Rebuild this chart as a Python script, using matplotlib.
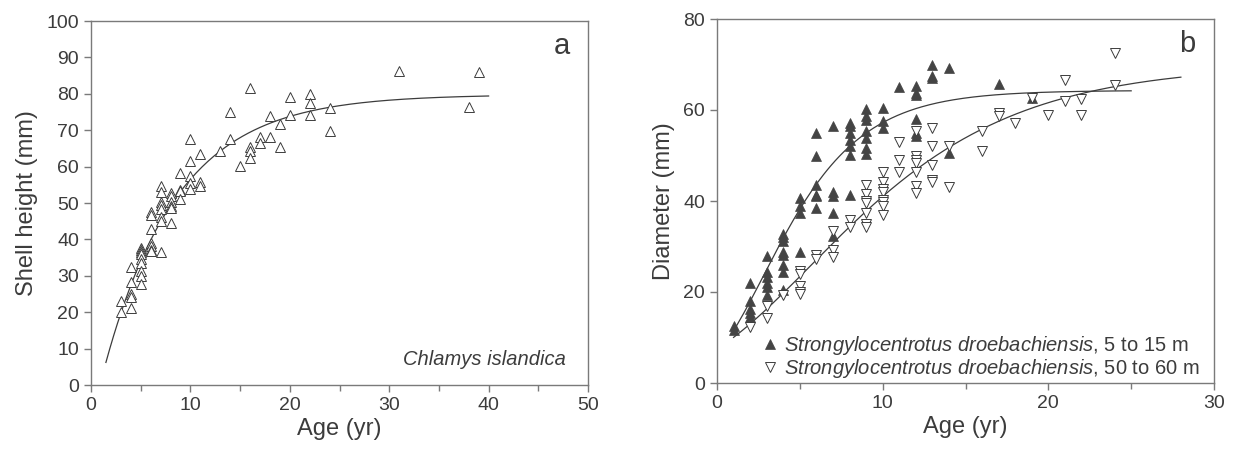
import numpy as np
import matplotlib
matplotlib.use('Agg')
import matplotlib.pyplot as plt
from matplotlib.ticker import MultipleLocator

plt.rcParams['font.family'] = ['Liberation Sans', 'DejaVu Sans']
plt.rcParams['mathtext.fontset'] = 'custom'
plt.rcParams['mathtext.rm'] = 'Liberation Sans'
plt.rcParams['mathtext.it'] = 'Liberation Sans:italic'

# ---- panel a: Chlamys islandica, shell height vs age ----
scallop_age = [3, 3,
               4, 4, 4, 4, 4,
               5, 5, 5, 5, 5, 5, 5, 5, 5,
               6, 6, 6, 6, 6, 6, 6,
               7, 7, 7, 7, 7, 7, 7, 7,
               8, 8, 8, 8, 8, 8,
               9, 9, 9, 9,
               10, 10, 10, 10, 10,
               11, 11, 11,
               13, 14, 14, 15,
               16, 16, 16, 16,
               17, 17, 18, 18, 19, 19, 20, 20,
               22, 22, 22, 24, 24,
               31, 38, 39]
scallop_height = [23.2, 20.0,
                  32.5, 28.2, 25.0, 24.3, 21.1,
                  37.6, 37.1, 36.5, 36.0, 34.5, 33.5, 31.2, 30.0, 27.8,
                  47.5, 46.7, 42.9, 38.9, 38.2, 37.1, 36.9,
                  54.8, 53.1, 50.4, 49.4, 48.3, 46.2, 45.1, 36.6,
                  52.8, 51.9, 50.3, 49.1, 48.5, 44.6,
                  58.3, 53.5, 53.2, 51.1,
                  67.6, 61.5, 57.4, 55.5, 53.8,
                  63.5, 55.9, 54.8,
                  64.2, 75.1, 67.6, 60.3,
                  81.5, 65.3, 64.4, 62.4,
                  68.1, 66.6, 73.8, 68.1, 71.6, 65.3, 79.0, 74.3,
                  79.9, 77.6, 74.2, 76.1, 69.9,
                  86.3, 76.4, 86.1]

# von Bertalanffy fit: Linf, k, t0
vb_linf, vb_k, vb_t0 = 79.8, 0.1353, 0.902
vb_age_range = (1.5, 40)

# ---- panel b: Strongylocentrotus droebachiensis, diameter vs age ----
shallow_age = [1, 1,
               2, 2, 2, 2, 2,
               3, 3, 3, 3, 3, 3,
               4, 4, 4, 4, 4, 4, 4, 4,
               5, 5, 5, 5,
               6, 6, 6, 6, 6, 6,
               7, 7, 7, 7, 7,
               8, 8, 8, 8, 8, 8, 8,
               9, 9, 9, 9, 9, 9, 9,
               10, 10, 10,
               11,
               12, 12, 12, 12, 12, 12,
               13, 13, 13,
               14, 14,
               17, 19]
shallow_diam = [12.6, 11.7,
                22.0, 18.0, 16.3, 15.4, 14.5,
                28.0, 24.5, 23.4, 22.0, 21.2, 19.4,
                32.7, 32.0, 31.3, 28.8, 28.2, 26.0, 24.5, 20.5,
                40.6, 38.8, 37.3, 28.8,
                54.9, 49.8, 43.6, 41.4, 41.0, 38.4,
                56.4, 41.9, 41.0, 37.3, 32.2,
                57.1, 56.5, 54.9, 53.4, 52.0, 50.1, 41.4,
                60.2, 58.6, 57.7, 55.3, 53.8, 51.6, 50.4,
                60.4, 57.5, 56.0,
                65.0,
                65.3, 63.8, 63.3, 58.0, 54.9, 54.3,
                69.9, 67.5, 67.0,
                69.2, 50.5,
                65.7, 62.6]

deep_age = [2,
            3, 3,
            4,
            5, 5, 5, 5, 5,
            6, 6,
            7, 7, 7,
            8, 8,
            9, 9, 9, 9, 9, 9, 9,
            10, 10, 10, 10, 10, 10, 10, 10,
            11, 11, 11,
            12, 12, 12, 12, 12, 12, 12,
            13, 13, 13, 13, 13,
            14, 14,
            16, 16, 17, 17, 18, 19, 20,
            21, 21, 22, 22, 24, 24]
deep_diam = [12.2,
             17.0, 14.3,
             19.4,
             24.7, 24.0, 21.4, 19.9, 19.5,
             28.2, 27.2,
             33.5, 29.3, 27.7,
             35.9, 34.3,
             43.6, 41.6, 40.1, 39.5, 37.3, 35.0, 34.3,
             46.3, 44.1, 42.6, 41.9, 40.3, 39.7, 38.9, 37.0,
             52.9, 49.0, 46.3,
             55.3, 49.9, 49.0, 48.3, 46.3, 43.2, 41.7,
             56.0, 52.0, 48.0, 44.7, 44.1,
             52.0, 43.0,
             55.3, 50.9, 59.3, 58.6, 57.2, 62.6, 58.9,
             66.6, 61.9, 62.4, 58.9, 72.5, 65.5]

# Gompertz fits: asymptote, b, k
shallow_fit = (64.3, 2.321, 0.299)
shallow_age_range = (1, 25)
deep_fit = (70.0, 2.243, 0.1433)
deep_age_range = (1, 28)

ink = '#3c3c3c'
spine_col = '#7a7a7a'

fig = plt.figure(figsize=(12.41, 4.5), dpi=100)
ax1 = fig.add_axes([91 / 1241, 65 / 450, 497 / 1241, 364 / 450])
ax2 = fig.add_axes([717 / 1241, 67 / 450, 497 / 1241, 364 / 450])


def style_axes(ax):
    for side in ['top', 'right', 'left', 'bottom']:
        ax.spines[side].set_color(spine_col)
        ax.spines[side].set_linewidth(1.0)
    ax.tick_params(which='both', direction='out', color=spine_col,
                   labelcolor=ink, labelsize=14, width=1.0)
    ax.tick_params(which='major', length=5)
    ax.tick_params(which='minor', length=4)


# panel a
t = np.linspace(*vb_age_range, 200)
ax1.plot(t, vb_linf * (1 - np.exp(-vb_k * (t - vb_t0))), color=ink, lw=0.9)
ax1.plot(scallop_age, scallop_height, linestyle='none', marker='^',
         markersize=6.5, markerfacecolor='white', markeredgecolor=ink,
         markeredgewidth=0.7)
ax1.set_xlim(0, 50)
ax1.set_ylim(0, 100)
ax1.xaxis.set_major_locator(MultipleLocator(10))
ax1.xaxis.set_minor_locator(MultipleLocator(5))
ax1.yaxis.set_major_locator(MultipleLocator(10))
ax1.set_xlabel('Age (yr)', fontsize=17, color=ink, labelpad=3)
ax1.set_ylabel('Shell height (mm)', fontsize=17, color=ink, labelpad=6)
ax1.text(0.963, 0.93, 'a', transform=ax1.transAxes, fontsize=21,
         color=ink, ha='right', va='center')
ax1.text(0.955, 0.07, 'Chlamys islandica', transform=ax1.transAxes,
         fontsize=14.5, style='italic', color=ink, ha='right', va='center')
style_axes(ax1)

# panel b
A, b, k = shallow_fit
t = np.linspace(*shallow_age_range, 200)
ax2.plot(t, A * np.exp(-b * np.exp(-k * t)), color=ink, lw=0.9)
A, b, k = deep_fit
t = np.linspace(*deep_age_range, 200)
ax2.plot(t, A * np.exp(-b * np.exp(-k * t)), color=ink, lw=0.9)

ax2.plot(shallow_age, shallow_diam, linestyle='none', marker='^',
         markersize=6.5, color='#444444', markeredgewidth=0.5,
         label=r'$\it{Strongylocentrotus\ droebachiensis}$, 5 to 15 m')
ax2.plot(deep_age, deep_diam, linestyle='none', marker='v',
         markersize=6.5, markerfacecolor='white', markeredgecolor=ink,
         markeredgewidth=0.7,
         label=r'$\it{Strongylocentrotus\ droebachiensis}$, 50 to 60 m')
ax2.set_xlim(0, 30)
ax2.set_ylim(0, 80)
ax2.xaxis.set_major_locator(MultipleLocator(10))
ax2.xaxis.set_minor_locator(MultipleLocator(5))
ax2.yaxis.set_major_locator(MultipleLocator(20))
ax2.set_xlabel('Age (yr)', fontsize=17, color=ink, labelpad=3)
ax2.set_ylabel('Diameter (mm)', fontsize=17, color=ink, labelpad=6)
ax2.text(0.963, 0.93, 'b', transform=ax2.transAxes, fontsize=21,
         color=ink, ha='right', va='center')
leg = ax2.legend(loc='lower right', bbox_to_anchor=(1.0, -0.03),
                 frameon=False, fontsize=14.5, handletextpad=0.2,
                 labelspacing=0.0, borderaxespad=0.3, handlelength=1.0)
for txt in leg.get_texts():
    txt.set_color(ink)
style_axes(ax2)

fig.savefig('out.png', dpi=100)
